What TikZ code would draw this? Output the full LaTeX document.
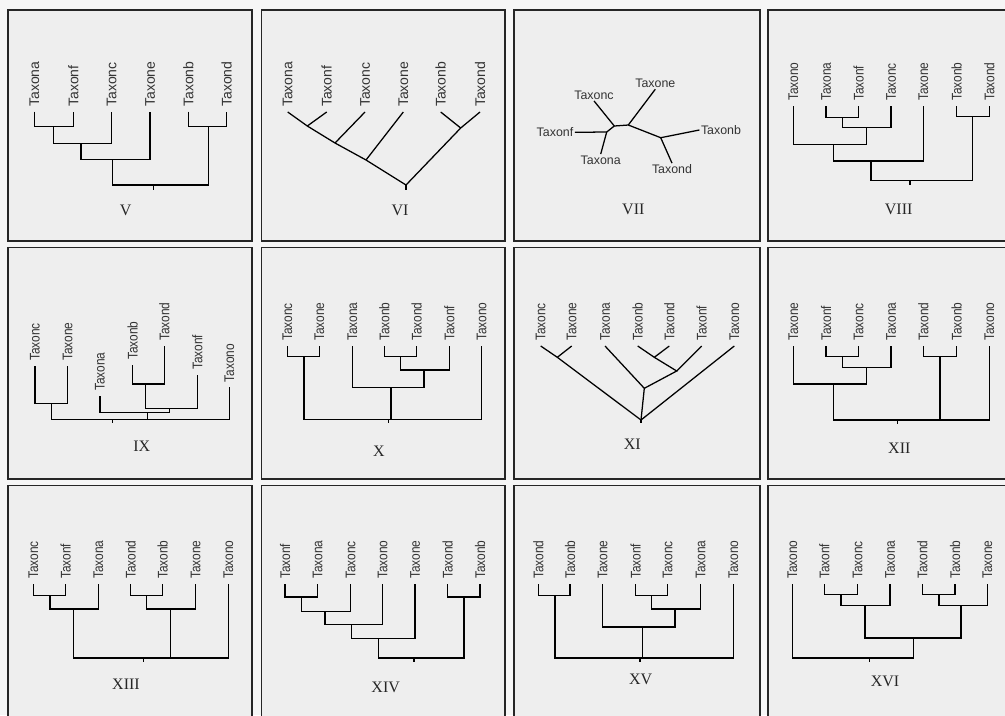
\documentclass[tikz,border=0pt]{standalone}
\usepackage{fontspec}
\setmainfont{Liberation Serif}
\newfontfamily\taxfont{Liberation Sans}
\newfontfamily\taxcond[FakeStretch=0.85]{Liberation Sans}
\definecolor{outerbg}{RGB}{246,246,246}
\definecolor{panelbg}{RGB}{238,238,238}
\tikzset{
  panelbox/.style={draw=black!85, line width=1.2pt, fill=panelbg},
  br/.style={line width=0.95pt, draw=black},
  taxsix/.style={rotate=90, anchor=west, inner xsep=3.6pt, inner ysep=0pt,
     font=\taxfont\fontsize{10.5}{12}\selectfont, text=black!80},
  taxsev/.style={rotate=90, anchor=west, inner xsep=3.6pt, inner ysep=0pt,
     font=\taxcond\fontsize{10.5}{12}\selectfont, text=black!80},
  taxflat/.style={inner sep=1pt, font=\taxfont\fontsize{9.3}{11}\selectfont, text=black!80},
  numlab/.style={font=\fontsize{12}{14}\selectfont, text=black!85}
}
\begin{document}
\begin{tikzpicture}[x=0.75pt,y=-0.75pt]
\useasboundingbox (0,0) rectangle (1005,715);
\fill[outerbg] (0,0) rectangle (1005,715);
\begin{scope}
\clip (0,0) rectangle (1005,715);
\draw[panelbox] (8,10) rectangle (252,241);
\draw[panelbox] (261.5,10) rectangle (505,241);
\draw[panelbox] (514,10) rectangle (760,241);
\draw[panelbox] (768,10) rectangle (1015,241);
\draw[panelbox] (8,247.5) rectangle (252,479);
\draw[panelbox] (261.5,247.5) rectangle (505,479);
\draw[panelbox] (514,247.5) rectangle (760,479);
\draw[panelbox] (768,247.5) rectangle (1015,479);
\draw[panelbox] (8,485.5) rectangle (252,720);
\draw[panelbox] (261.5,485.5) rectangle (505,720);
\draw[panelbox] (514,485.5) rectangle (760,720);
\draw[panelbox] (768,485.5) rectangle (1015,720);
\end{scope}

% ---------- V ----------
\node[taxsix] (Va) at (34.3,111.7) {Taxona};
\node[taxsix] (Vf) at (73.3,111.7) {Taxonf};
\node[taxsix] (Vc) at (111.7,111.7) {Taxonc};
\node[taxsix] (Ve) at (150,111.7) {Taxone};
\node[taxsix] (Vb) at (188.3,111.7) {Taxonb};
\node[taxsix] (Vd) at (226.7,111.7) {Taxond};
\coordinate (Vaf) at (53.3,126.7);
\coordinate (Vafc) at (81,143.3);
\coordinate (Vafce) at (112.3,159.3);
\coordinate (Vbd) at (208.3,126.7);
\coordinate (Vr) at (153.3,185);
\coordinate (Vt) at (153.3,190);
\draw[br] (Va.west) |- (Vaf) -| (Vf.west);
\draw[br] (Vaf) |- (Vafc) -| (Vc.west);
\draw[br] (Vafc) |- (Vafce) -| (Ve.west);
\draw[br] (Vb.west) |- (Vbd) -| (Vd.west);
\draw[br] (Vafce) |- (Vr) -| (Vbd);
\draw[br] (Vr) -- (Vt);
\node[numlab] (VL) at (125.7,210) {V};

% ---------- VI ----------
\node[taxsix] (VIa) at (287.7,112) {Taxona};
\node[taxsix] (VIf) at (326.7,112) {Taxonf};
\node[taxsix] (VIc) at (365,112) {Taxonc};
\node[taxsix] (VIe) at (403.3,112) {Taxone};
\node[taxsix] (VIb) at (440.7,112) {Taxonb};
\node[taxsix] (VId) at (480,112) {Taxond};
\coordinate (VIaf) at (307.3,126);
\coordinate (VIafc) at (335,143);
\coordinate (VIafce) at (366,160);
\coordinate (VIbd) at (460.7,128);
\coordinate (VIr) at (406,185);
\coordinate (VIt) at (406,190);
\draw[br] (VIa.west) -- (VIaf) -- (VIafc) -- (VIafce) -- (VIr) -- (VIbd) -- (VId.west);
\draw[br] (VIf.west) -- (VIaf);
\draw[br] (VIc.west) -- (VIafc);
\draw[br] (VIe.west) -- (VIafce);
\draw[br] (VIb.west) -- (VIbd);
\draw[br] (VIr) -- (VIt);
\node[numlab] (VIL) at (400,210) {VI};

% ---------- VII ----------
\node[taxflat] (VIIe) at (655.3,83.3) {Taxone};
\node[taxflat] (VIIc) at (594,95) {Taxonc};
\node[taxflat] (VIIf) at (555,132.3) {Taxonf};
\node[taxflat] (VIIa) at (600.7,160) {Taxona};
\node[taxflat] (VIIb) at (721,130) {Taxonb};
\node[taxflat] (VIId) at (672,169.3) {Taxond};
\coordinate (VIIp) at (614.3,126);
\coordinate (VIIq) at (606.7,132);
\coordinate (VIIr) at (628.3,125);
\coordinate (VIIs) at (660.7,137.7);
\draw[br] (VIIf.east) -- (VIIq) -- (VIIp) -- (VIIr) -- (VIIs) -- (VIIb.west);
\draw[br] (VIIa.north) -- (VIIq);
\draw[br] (VIIc.south) -- (VIIp);
\draw[br] (VIIe.south) -- (VIIr);
\draw[br] (VIId.north) -- (VIIs);
\node[numlab] (VIIL) at (633.3,209.3) {VII};

% ---------- VIII ----------
\node[taxsev] (VIIIo) at (793.3,106) {Taxono};
\node[taxsev] (VIIIa) at (826,106) {Taxona};
\node[taxsev] (VIIIf) at (858.7,106) {Taxonf};
\node[taxsev] (VIIIc) at (891,106) {Taxonc};
\node[taxsev] (VIIIe) at (923.3,106) {Taxone};
\node[taxsev] (VIIIb) at (956.7,106) {Taxonb};
\node[taxsev] (VIIId) at (989.3,106) {Taxond};
\coordinate (VIIIaf) at (842.7,117.3);
\coordinate (VIIIafc) at (866.7,127.7);
\coordinate (VIIIoafc) at (833.3,144.3);
\coordinate (VIIIoafce) at (871,161);
\coordinate (VIIIbd) at (972.7,116.7);
\coordinate (VIIIr) at (910,180.7);
\coordinate (VIIIt) at (910,184.5);
\draw[br] (VIIIa.west) |- (VIIIaf) -| (VIIIf.west);
\draw[br] (VIIIaf) |- (VIIIafc) -| (VIIIc.west);
\draw[br] (VIIIo.west) |- (VIIIoafc) -| (VIIIafc);
\draw[br] (VIIIoafc) |- (VIIIoafce) -| (VIIIe.west);
\draw[br] (VIIIb.west) |- (VIIIbd) -| (VIIId.west);
\draw[br] (VIIIoafce) |- (VIIIr) -| (VIIIbd);
\draw[br] (VIIIr) -- (VIIIt);
\node[numlab] (VIIIL) at (898.7,209.3) {VIII};

% ---------- IX ----------
\node[taxsev] (IXc) at (35,366) {Taxonc};
\node[taxsev] (IXe) at (67.7,366) {Taxone};
\node[taxsev] (IXa) at (100,396) {Taxona};
\node[taxsev] (IXb) at (132.7,365) {Taxonb};
\node[taxsev] (IXd) at (164.3,346) {Taxond};
\node[taxsev] (IXf) at (197.3,375) {Taxonf};
\node[taxsev] (IXo) at (229.3,387.3) {Taxono};
\coordinate (IXce) at (51.7,403.3);
\coordinate (IXbd) at (145.7,384);
\coordinate (IXbdf) at (169.3,408.3);
\coordinate (IXabdf) at (147.7,412.7);
\coordinate (IXr) at (112.3,419.3);
\coordinate (IXt) at (112.3,423.3);
\draw[br] (IXc.west) |- (IXce) -| (IXe.west);
\draw[br] (IXb.west) |- (IXbd) -| (IXd.west);
\draw[br] (IXbd) |- (IXbdf) -| (IXf.west);
\draw[br] (IXa.west) |- (IXabdf) -| (IXbdf);
\draw[br] (IXce) |- (IXr) -| (IXo.west);
\draw[br] (IXabdf) |- (IXr);
\draw[br] (IXr) -- (IXt);
\node[numlab] (IXL) at (141.7,446.7) {IX};

% ---------- X ----------
\node[taxsev] (Xc) at (287.3,346) {Taxonc};
\node[taxsev] (Xe) at (319.3,346) {Taxone};
\node[taxsev] (Xa) at (352.3,346) {Taxona};
\node[taxsev] (Xb) at (384.3,346) {Taxonb};
\node[taxsev] (Xd) at (416.7,346) {Taxond};
\node[taxsev] (Xf) at (449.3,346) {Taxonf};
\node[taxsev] (Xo) at (481.7,346) {Taxono};
\coordinate (Xce) at (304,356.7);
\coordinate (Xbd) at (400.7,356.7);
\coordinate (Xbdf) at (424,370);
\coordinate (Xabdf) at (391,387.7);
\coordinate (Xr) at (388.3,419.3);
\coordinate (Xt) at (388.3,423.3);
\draw[br] (Xc.west) |- (Xce) -| (Xe.west);
\draw[br] (Xb.west) |- (Xbd) -| (Xd.west);
\draw[br] (Xbd) |- (Xbdf) -| (Xf.west);
\draw[br] (Xa.west) |- (Xabdf) -| (Xbdf);
\draw[br] (Xce) |- (Xr) -| (Xo.west);
\draw[br] (Xabdf) |- (Xr);
\draw[br] (Xr) -- (Xt);
\node[numlab] (XL) at (379,451.7) {X};

% ---------- XI ----------
\node[taxsev] (XIc) at (540.7,346) {Taxonc};
\node[taxsev] (XIe) at (571.7,346) {Taxone};
\node[taxsev] (XIa) at (605,346) {Taxona};
\node[taxsev] (XIb) at (637.7,346) {Taxonb};
\node[taxsev] (XId) at (669.3,346) {Taxond};
\node[taxsev] (XIf) at (701.7,346) {Taxonf};
\node[taxsev] (XIo) at (734.3,346) {Taxono};
\coordinate (XIce) at (557.3,357.3);
\coordinate (XIbd) at (654.3,357.3);
\coordinate (XIbdf) at (676.7,371);
\coordinate (XIabdf) at (644.3,388.3);
\coordinate (XIr) at (641,420);
\coordinate (XIt) at (641,423.3);
\draw[br] (XIc.west) -- (XIce) -- (XIr);
\draw[br] (XIe.west) -- (XIce);
\draw[br] (XIa.west) -- (XIabdf) -- (XIr);
\draw[br] (XIb.west) -- (XIbd) -- (XIbdf) -- (XIabdf);
\draw[br] (XId.west) -- (XIbd);
\draw[br] (XIf.west) -- (XIbdf);
\draw[br] (XIo.west) -- (XIr);
\draw[br] (XIr) -- (XIt);
\node[numlab] (XIL) at (632.3,444) {XI};

% ---------- XII ----------
\node[taxsev] (XIIe) at (793.3,346) {Taxone};
\node[taxsev] (XIIf) at (826,346) {Taxonf};
\node[taxsev] (XIIc) at (858.7,346) {Taxonc};
\node[taxsev] (XIIa) at (891,346) {Taxona};
\node[taxsev] (XIId) at (923.3,346) {Taxond};
\node[taxsev] (XIIb) at (956.7,346) {Taxonb};
\node[taxsev] (XIIo) at (989.3,346) {Taxono};
\coordinate (XIIfc) at (842.7,356.7);
\coordinate (XIIfca) at (866.7,367.7);
\coordinate (XIIefca) at (833.3,384);
\coordinate (XIIdb) at (940,356.7);
\coordinate (XIIr) at (897.7,420);
\coordinate (XIIt) at (897.7,423.5);
\draw[br] (XIIf.west) |- (XIIfc) -| (XIIc.west);
\draw[br] (XIIfc) |- (XIIfca) -| (XIIa.west);
\draw[br] (XIIe.west) |- (XIIefca) -| (XIIfca);
\draw[br] (XIId.west) |- (XIIdb) -| (XIIb.west);
\draw[br] (XIIefca) |- (XIIr) -| (XIIo.west);
\draw[br] (XIIdb) |- (XIIr);
\draw[br] (XIIr) -- (XIIt);
\node[numlab] (XIIL) at (899.3,448.3) {XII};

% ---------- XIII ----------
\node[taxsev] (XIIIc) at (33.3,584) {Taxonc};
\node[taxsev] (XIIIf) at (65.7,584) {Taxonf};
\node[taxsev] (XIIIa) at (98.3,584) {Taxona};
\node[taxsev] (XIIId) at (130.7,584) {Taxond};
\node[taxsev] (XIIIb) at (162.7,584) {Taxonb};
\node[taxsev] (XIIIe) at (195.7,584) {Taxone};
\node[taxsev] (XIIIo) at (228.3,584) {Taxono};
\coordinate (XIIIcf) at (50,595.3);
\coordinate (XIIIcfa) at (73.3,609);
\coordinate (XIIIdb) at (146.7,595.3);
\coordinate (XIIIdbe) at (170.7,609);
\coordinate (XIIIr) at (143.3,658);
\coordinate (XIIIt) at (143.3,661.5);
\draw[br] (XIIIc.west) |- (XIIIcf) -| (XIIIf.west);
\draw[br] (XIIIcf) |- (XIIIcfa) -| (XIIIa.west);
\draw[br] (XIIId.west) |- (XIIIdb) -| (XIIIb.west);
\draw[br] (XIIIdb) |- (XIIIdbe) -| (XIIIe.west);
\draw[br] (XIIIcfa) |- (XIIIr) -| (XIIIo.west);
\draw[br] (XIIIdbe) |- (XIIIr);
\draw[br] (XIIIr) -- (XIIIt);
\node[numlab] (XIIIL) at (126,684.7) {XIII};

% ---------- XIV ----------
\node[taxsev] (XIVf) at (285,584) {Taxonf};
\node[taxsev] (XIVa) at (317.7,584) {Taxona};
\node[taxsev] (XIVc) at (350.7,584) {Taxonc};
\node[taxsev] (XIVo) at (382.7,584) {Taxono};
\node[taxsev] (XIVe) at (415,584) {Taxone};
\node[taxsev] (XIVd) at (447.7,584) {Taxond};
\node[taxsev] (XIVb) at (480,584) {Taxonb};
\coordinate (XIVfa) at (301.7,597);
\coordinate (XIVfac) at (325,611.3);
\coordinate (XIVfaco) at (351.7,624.7);
\coordinate (XIVfacoe) at (378.3,638.7);
\coordinate (XIVdb) at (464,597);
\coordinate (XIVr) at (414,658);
\coordinate (XIVt) at (414,662);
\draw[br] (XIVf.west) |- (XIVfa) -| (XIVa.west);
\draw[br] (XIVfa) |- (XIVfac) -| (XIVc.west);
\draw[br] (XIVfac) |- (XIVfaco) -| (XIVo.west);
\draw[br] (XIVfaco) |- (XIVfacoe) -| (XIVe.west);
\draw[br] (XIVd.west) |- (XIVdb) -| (XIVb.west);
\draw[br] (XIVfacoe) |- (XIVr) -| (XIVdb);
\draw[br] (XIVr) -- (XIVt);
\node[numlab] (XIVL) at (385.7,687.3) {XIV};

% ---------- XV ----------
\node[taxsev] (XVd) at (538.3,584) {Taxond};
\node[taxsev] (XVb) at (570,584) {Taxonb};
\node[taxsev] (XVe) at (602.7,584) {Taxone};
\node[taxsev] (XVf) at (635.7,584) {Taxonf};
\node[taxsev] (XVc) at (667.7,584) {Taxonc};
\node[taxsev] (XVa) at (700.7,584) {Taxona};
\node[taxsev] (XVo) at (733.3,584) {Taxono};
\coordinate (XVdb) at (555,595.7);
\coordinate (XVfc) at (651.7,595.7);
\coordinate (XVfca) at (675,609);
\coordinate (XVefca) at (642.7,627);
\coordinate (XVr) at (640,658);
\coordinate (XVt) at (640,662);
\draw[br] (XVd.west) |- (XVdb) -| (XVb.west);
\draw[br] (XVf.west) |- (XVfc) -| (XVc.west);
\draw[br] (XVfc) |- (XVfca) -| (XVa.west);
\draw[br] (XVe.west) |- (XVefca) -| (XVfca);
\draw[br] (XVdb) |- (XVr) -| (XVo.west);
\draw[br] (XVefca) |- (XVr);
\draw[br] (XVr) -- (XVt);
\node[numlab] (XVL) at (640.7,679) {XV};

% ---------- XVI ----------
\node[taxsev] (XVIo) at (792.3,584) {Taxono};
\node[taxsev] (XVIf) at (824.3,584) {Taxonf};
\node[taxsev] (XVIc) at (857.7,584) {Taxonc};
\node[taxsev] (XVIa) at (890,584) {Taxona};
\node[taxsev] (XVId) at (922.3,584) {Taxond};
\node[taxsev] (XVIb) at (955,584) {Taxonb};
\node[taxsev] (XVIe) at (987.3,584) {Taxone};
\coordinate (XVIfc) at (841,594.7);
\coordinate (XVIfca) at (865,605.7);
\coordinate (XVIdb) at (939,594.7);
\coordinate (XVIdbe) at (961,605.7);
\coordinate (XVIm) at (913.3,638);
\coordinate (XVIr) at (869.3,658);
\coordinate (XVIt) at (869.3,662);
\draw[br] (XVIf.west) |- (XVIfc) -| (XVIc.west);
\draw[br] (XVIfc) |- (XVIfca) -| (XVIa.west);
\draw[br] (XVId.west) |- (XVIdb) -| (XVIb.west);
\draw[br] (XVIdb) |- (XVIdbe) -| (XVIe.west);
\draw[br] (XVIfca) |- (XVIm) -| (XVIdbe);
\draw[br] (XVIo.west) |- (XVIr) -| (XVIm);
\draw[br] (XVIr) -- (XVIt);
\node[numlab] (XVIL) at (885,681.3) {XVI};
\end{tikzpicture}
\end{document}
